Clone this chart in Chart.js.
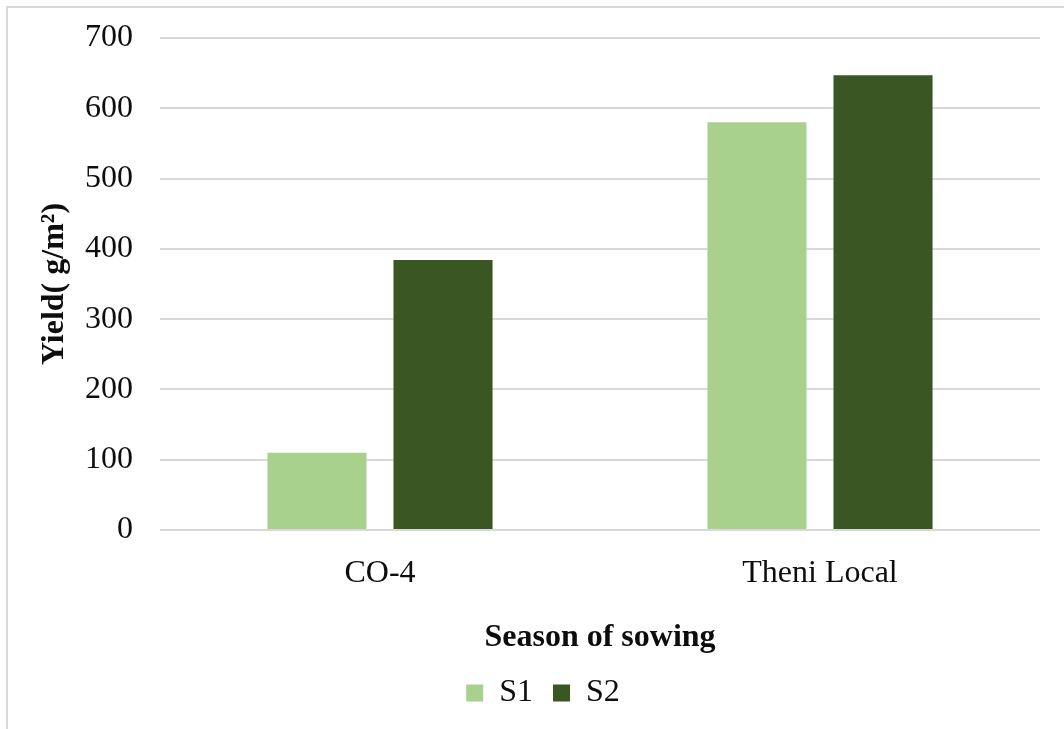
<!DOCTYPE html>
<html>
<head>
<meta charset="utf-8">
<script src="https://cdn.jsdelivr.net/npm/chart.js@4/dist/chart.umd.min.js"></script>
<style>
  html, body { margin: 0; padding: 0; background: #ffffff; }
  #wrap { position: relative; width: 1064px; height: 729px; overflow: hidden; }
  #frame { position: absolute; left: 6px; top: 6px; width: 1100px; height: 800px;
           border-left: 2px solid #d9d9d9; border-top: 2px solid #d9d9d9; box-sizing: border-box; }
  canvas { position: absolute; left: 0; top: 0; }
</style>
</head>
<body>
<div id="wrap">
  <div id="frame"></div>
  <canvas id="chart" width="1064" height="729"></canvas>
</div>
<script>
// Yield by variety and season of sowing
const varieties = ['CO-4', 'Theni Local'];
const s1Yield = [110, 580];
const s2Yield = [384, 647];
const yTicks = [0, 100, 200, 300, 400, 500, 600, 700];

const FONT = "'Liberation Serif', 'Times New Roman', serif";
const INK = '#0d0d0d';

// Nudge the legend row to the right so it sits under the middle of the frame
const legendShift = {
  id: 'legendShift',
  afterLayout(chart) {
    const lg = chart.legend;
    if (lg) { lg.left += 23; lg.right += 23; }
  }
};

new Chart(document.getElementById('chart'), {
  type: 'bar',
  data: {
    labels: varieties,
    datasets: [
      { label: 'S1', data: s1Yield, backgroundColor: '#a9d18e' },
      { label: 'S2', data: s2Yield, backgroundColor: '#3a5623' }
    ]
  },
  plugins: [legendShift],
  options: {
    responsive: false,
    animation: false,
    devicePixelRatio: 1,
    layout: { padding: { top: 38, right: 24, left: 0, bottom: 10 } },
    datasets: { bar: { categoryPercentage: 0.573, barPercentage: 0.786 } },
    plugins: {
      tooltip: { enabled: false },
      legend: {
        position: 'bottom',
        labels: {
          boxWidth: 17,
          boxHeight: 17,
          padding: 20,
          color: INK,
          font: { family: FONT, size: 32 }
        }
      }
    },
    scales: {
      x: {
        grid: { display: false },
        border: { display: false },
        ticks: { color: INK, padding: 16, font: { family: FONT, size: 32 } },
        title: {
          display: true,
          text: 'Season of sowing',
          color: INK,
          padding: { top: 18, bottom: 0 },
          font: { family: FONT, size: 32, weight: 'bold' }
        },
        afterFit(scale) { scale.height = 127; }
      },
      y: {
        min: 0,
        max: 700,
        afterBuildTicks(scale) { scale.ticks = yTicks.map(v => ({ value: v })); },
        grid: { color: '#d9d9d9', lineWidth: 2, drawTicks: false },
        border: { display: false },
        ticks: { color: INK, padding: 27, font: { family: FONT, size: 32 } },
        title: {
          display: true,
          text: 'Yield( g/m²)',
          color: INK,
          padding: { top: 36, bottom: 0 },
          font: { family: FONT, size: 32, weight: 'bold' }
        },
        afterFit(scale) {
          scale.width = 160;
          scale.paddingTop = 0;
          scale.paddingBottom = 0;
        }
      }
    }
  }
});
</script>
</body>
</html>
